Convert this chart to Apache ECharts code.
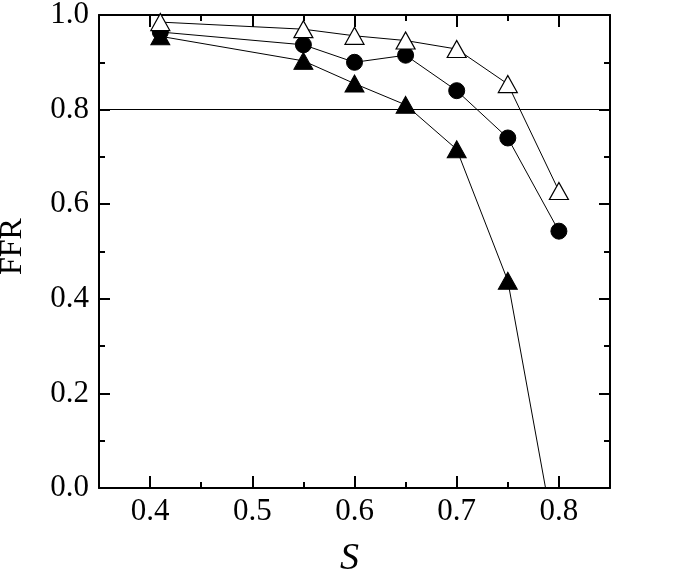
<!DOCTYPE html>
<html>
<head>
<meta charset="utf-8">
<script src="https://cdn.jsdelivr.net/npm/echarts@6/dist/echarts.min.js"></script>
<style>
html,body{margin:0;padding:0;background:#fff;}
#chart{width:685px;height:573px;}
</style>
</head>
<body>
<div id="chart"></div>
<script>
// Data
const sOpenTri   = [0.41, 0.55, 0.60, 0.65, 0.70, 0.75, 0.80];
const ffrOpenTri = [0.985, 0.970, 0.956, 0.946, 0.928, 0.854, 0.628];

const sCircle    = [0.41, 0.55, 0.60, 0.65, 0.70, 0.75, 0.80];
const ffrCircle  = [0.964, 0.937, 0.900, 0.915, 0.840, 0.740, 0.543];

const sFillTri   = [0.41, 0.55, 0.60, 0.65, 0.70, 0.75, 0.80];
const ffrFillTri = [0.955, 0.903, 0.855, 0.810, 0.716, 0.438, -0.155];

const thresholdFFR = 0.8;

const xMin = 0.35, xMax = 0.85;
const yMin = 0, yMax = 1.0;

function pairs(xs, ys){ return xs.map((x,i)=>[x, ys[i]]); }

const FONT = '"Liberation Serif", "Times New Roman", serif';
const axisLineStyle = {color:'#000', width:2};

function xAxisBase(pos, minorAxis, showLabels){
  const a = {
    type:'value', position:pos, min:xMin, max:xMax,
    axisLine:{show:minorAxis, lineStyle:axisLineStyle, onZero:false},
    splitLine:{show:false},
    axisTick:{show:true, inside:true, length: minorAxis ? 6 : 12, lineStyle:{color:'#000', width:2}},
    axisLabel:{show:false}
  };
  if (minorAxis) a.interval = 0.05; else a.splitNumber = 5;
  if (showLabels) {
    a.axisLabel = {show:true, fontFamily:FONT, fontSize:31, color:'#000', margin:8,
      showMinLabel:false, showMaxLabel:false,
      formatter: v => v.toFixed(1)};
    a.name = 'S';
    a.nameLocation = 'middle';
    a.nameGap = 52;
    a.nameTextStyle = {fontFamily:FONT, fontStyle:'italic', fontSize:38, color:'#000', padding:[0,10,0,0]};
  }
  return a;
}

const option = {
  backgroundColor:'#fff',
  animation:false,
  grid:{left:99, right:75, top:15, bottom:85, containLabel:false, outerBoundsMode:'none'},
  xAxis:[
    xAxisBase('bottom', true, false),
    xAxisBase('bottom', false, true),
    xAxisBase('top', true, false),
    xAxisBase('top', false, false)
  ],
  yAxis:[
    {type:'value', position:'left', min:yMin, max:yMax, interval:0.2,
     axisLine:{show:true, lineStyle:axisLineStyle, onZero:false},
     splitLine:{show:false},
     axisTick:{show:true, inside:true, length:11, lineStyle:{color:'#000', width:2}},
     minorTick:{show:true, splitNumber:2, length:6, lineStyle:{color:'#000', width:2}},
     axisLabel:{fontFamily:FONT, fontSize:31, color:'#000', margin:10, formatter:v=>v.toFixed(1)},
     name:'FFR', nameLocation:'middle', nameGap:70, nameRotate:90,
     nameTextStyle:{fontFamily:FONT, fontSize:32, color:'#000', padding:[0,0,0,10]}
    },
    {type:'value', position:'right', min:yMin, max:yMax, interval:0.2,
     axisLine:{show:true, lineStyle:axisLineStyle, onZero:false},
     splitLine:{show:false},
     axisTick:{show:true, inside:true, length:11, lineStyle:{color:'#000', width:2}},
     minorTick:{show:true, splitNumber:2, length:6, lineStyle:{color:'#000', width:2}},
     axisLabel:{show:false}
    }
  ],
  series:[
    {type:'line', xAxisIndex:0, yAxisIndex:0, data:pairs(sFillTri, ffrFillTri),
     symbol:'triangle', symbolSize:[19,17], clip:true,
     lineStyle:{color:'#000', width:1}, itemStyle:{color:'#000', borderColor:'#000', borderWidth:1},
     markLine:{silent:true, symbol:'none', label:{show:false},
       lineStyle:{color:'#000', width:1, type:'solid'},
       data:[{yAxis:thresholdFFR}]},
     z:3},
    {type:'line', xAxisIndex:0, yAxisIndex:0, data:pairs(sCircle, ffrCircle),
     symbol:'circle', symbolSize:16, clip:true,
     lineStyle:{color:'#000', width:1}, itemStyle:{color:'#000', borderColor:'#000', borderWidth:1},
     z:4},
    {type:'line', xAxisIndex:0, yAxisIndex:0, data:pairs(sOpenTri, ffrOpenTri),
     symbol:'triangle', symbolSize:[19,17], clip:true,
     lineStyle:{color:'#000', width:1}, itemStyle:{color:'#fff', borderColor:'#000', borderWidth:1.2},
     z:5}
  ]
};

const chart = echarts.init(document.getElementById('chart'), null, {renderer:'canvas'});
chart.setOption(option);
</script>
</body>
</html>
